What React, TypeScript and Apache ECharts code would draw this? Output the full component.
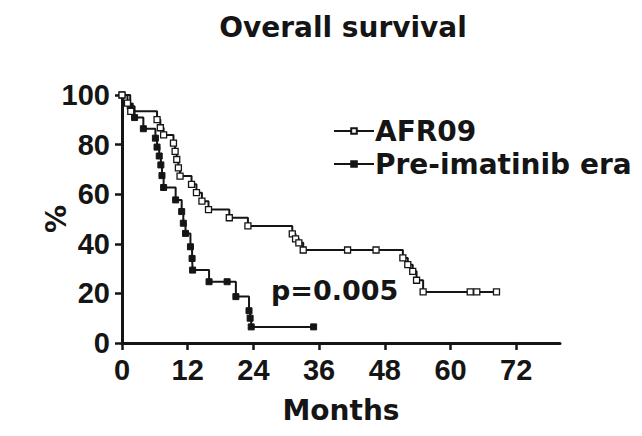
import React, { useEffect, useRef } from "react";
import * as echarts from "echarts";

const TITLE = "Overall survival";
const X_NAME = "Months";
const Y_NAME = "%";
const P_TEXT = "p=0.005";
const X_TICKS = [0, 12, 24, 36, 48, 60, 72];
const Y_TICKS = [0, 20, 40, 60, 80, 100];
const SERIES_NAMES = ["AFR09", "Pre-imatinib era"];

// [months, % surviving]
const AFR09 = [
  [0, 100], [1.0, 96.7], [1.6, 93.4], [6.4, 90.1], [7.0, 86.8], [7.6, 83.9],
  [9.4, 80.6], [9.7, 77.3], [10.0, 74.0], [10.3, 70.6], [10.6, 67.3],
  [12.7, 64.0], [13.6, 60.6], [14.6, 57.2], [15.8, 53.8], [19.6, 50.5],
  [23.0, 47.2], [31.1, 44.0], [31.7, 42.0], [32.3, 40.4], [33.1, 37.5],
  [41.2, 37.5], [46.4, 37.5], [51.3, 34.3], [52.2, 31.6], [53.1, 28.9],
  [53.8, 25.3], [55.0, 20.6], [63.6, 20.6], [64.8, 20.6], [68.4, 20.6],
];

const PRE_IMATINIB = [
  [0, 100], [1.5, 95.5], [2.3, 90.9], [3.9, 86.4], [6.1, 82.6], [6.4, 79.0],
  [6.8, 75.4], [7.1, 71.8], [7.3, 67.5], [7.6, 62.7], [9.8, 57.7],
  [10.9, 53.0], [11.2, 48.3], [11.6, 44.2], [12.5, 38.8], [12.8, 34.1],
  [12.9, 29.4], [15.9, 24.7], [19.2, 24.7], [20.8, 18.7], [23.2, 13.0],
  [23.4, 10.0], [23.6, 6.5], [35.0, 6.5],
];

const INK = "#151515";
const BOLD_FONT = "DejaVu Sans";
const TICK_FONT = "Liberation Sans";

export default function App() {
  const ref = useRef<HTMLDivElement>(null);
  useEffect(() => {
    if (!ref.current) return;
    const chart = echarts.init(ref.current, undefined, { renderer: "svg" });
    const axisCommon = {
      axisLine: { show: true, lineStyle: { color: INK, width: 3 } },
      axisTick: { show: true, length: 7, lineStyle: { color: INK, width: 2.5 } },
      splitLine: { show: false },
    };
    chart.setOption({
      animation: false,
      backgroundColor: "#ffffff",
      title: {
        text: TITLE,
        left: 338,
        top: 8,
        textAlign: "center",
        textStyle: { fontFamily: BOLD_FONT, fontWeight: "bold", fontSize: 28, color: INK },
      },
      legend: {
        data: SERIES_NAMES,
        orient: "vertical",
        left: 328,
        top: 112,
        itemWidth: 40,
        itemHeight: 7,
        itemGap: 5,
        textStyle: { fontFamily: BOLD_FONT, fontWeight: "bold", fontSize: 28, color: INK, padding: [0, 0, 0, -4] },
      },
      grid: { left: 122, right: 82, top: 95, bottom: 93, containLabel: false, outerBoundsMode: "none" },
      xAxis: {
        type: "value",
        min: 0,
        max: 80,
        interval: 12,
        name: X_NAME,
        nameLocation: "middle",
        nameGap: 53,
        nameMoveOverlap: false,
        nameTextStyle: { fontFamily: BOLD_FONT, fontWeight: "bold", fontSize: 28, color: INK },
        ...axisCommon,
        axisTick: { ...axisCommon.axisTick, customValues: X_TICKS },
        axisLabel: {
          customValues: X_TICKS,
          margin: 12,
          fontFamily: TICK_FONT,
          fontWeight: "bold",
          fontSize: 29,
          color: INK,
        },
      },
      yAxis: {
        type: "value",
        min: 0,
        max: 100,
        interval: 20,
        name: Y_NAME,
        nameLocation: "middle",
        nameGap: 52,
        nameRotate: 90,
        nameMoveOverlap: false,
        nameTextStyle: { fontFamily: BOLD_FONT, fontWeight: "bold", fontSize: 28, color: INK },
        ...axisCommon,
        axisLabel: {
          customValues: Y_TICKS,
          margin: 12,
          fontFamily: TICK_FONT,
          fontWeight: "bold",
          fontSize: 29,
          color: INK,
        },
      },
      graphic: [
        {
          type: "text",
          left: 271,
          top: 277,
          style: { text: P_TEXT, fontFamily: BOLD_FONT, fontWeight: "bold", fontSize: 27, fill: INK },
        },
      ],
      series: [
        {
          name: SERIES_NAMES[0],
          type: "line",
          step: "end",
          data: AFR09,
          symbol: "rect",
          symbolSize: 6,
          showAllSymbol: true,
          lineStyle: { color: INK, width: 2 },
          itemStyle: { color: "#ffffff", borderColor: INK, borderWidth: 1.3 },
          z: 3,
        },
        {
          name: SERIES_NAMES[1],
          type: "line",
          step: "end",
          data: PRE_IMATINIB,
          symbol: "rect",
          symbolSize: 6,
          showAllSymbol: true,
          lineStyle: { color: INK, width: 2 },
          itemStyle: { color: INK, borderColor: INK, borderWidth: 1 },
          z: 2,
        },
      ],
    });
    return () => chart.dispose();
  }, []);
  return (
    <div
      ref={ref}
      style={{ position: "fixed", left: 0, top: 0, width: 642, height: 436, background: "#fff" }}
    />
  );
}
